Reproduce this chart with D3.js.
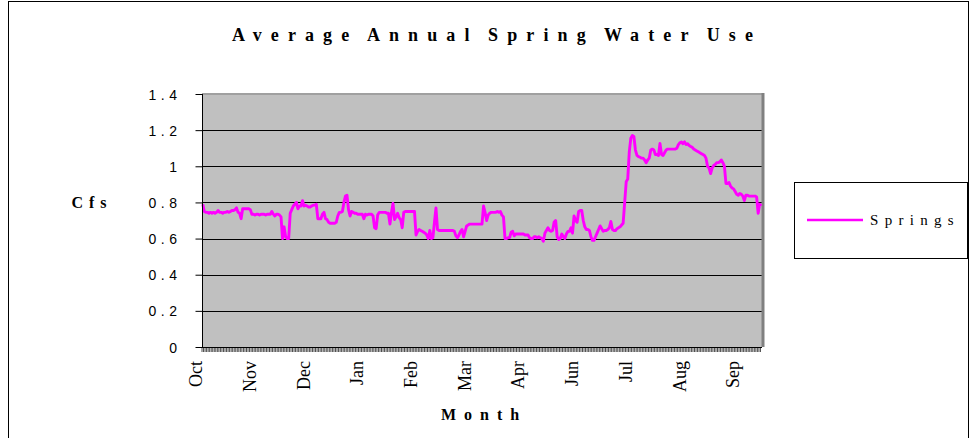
<!DOCTYPE html>
<html><head><meta charset="utf-8">
<script src="https://cdn.jsdelivr.net/npm/d3@7/dist/d3.min.js"></script>
<style>body{margin:0;background:#fff;overflow:hidden}</style>
</head><body><svg id="c" width="972" height="438"></svg>
<script>
const chartTitle = "Average Annual Spring Water Use";
const xTitle = "Month";
const yTitle = "Cfs";
const seriesName = "Springs";
const yTicks = [0, 0.2, 0.4, 0.6, 0.8, 1, 1.2, 1.4];
const monthLabels = ["Oct","Nov","Dec","Jan","Feb","Mar","Apr","Jun","Jul","Aug","Sep"];
const monthLabelDays = [0, 35, 70, 105, 140, 175, 210, 245, 280, 315, 350];
const springs = [
  0.79,0.75,0.745,0.745,0.74,0.745,0.74,0.745,0.74,0.745,
  0.755,0.745,0.745,0.74,0.745,0.745,0.75,0.745,0.75,0.755,
  0.755,0.76,0.77,0.745,0.74,0.71,0.765,0.765,0.765,0.765,
  0.765,0.76,0.735,0.735,0.73,0.735,0.735,0.73,0.735,0.735,
  0.735,0.73,0.735,0.735,0.735,0.75,0.735,0.725,0.735,0.735,
  0.73,0.72,0.60,0.665,0.61,0.60,0.60,0.74,0.76,0.78,
  0.79,0.80,0.765,0.78,0.78,0.81,0.78,0.785,0.78,0.775,
  0.775,0.78,0.785,0.785,0.79,0.71,0.71,0.71,0.735,0.745,
  0.71,0.705,0.69,0.685,0.685,0.685,0.685,0.69,0.725,0.745,
  0.745,0.75,0.80,0.835,0.84,0.76,0.725,0.75,0.745,0.74,
  0.74,0.735,0.735,0.735,0.735,0.71,0.735,0.73,0.735,0.735,
  0.735,0.725,0.66,0.655,0.73,0.745,0.745,0.745,0.745,0.745,
  0.74,0.74,0.68,0.745,0.795,0.705,0.72,0.74,0.715,0.705,
  0.66,0.745,0.75,0.75,0.75,0.75,0.75,0.75,0.75,0.62,
  0.64,0.65,0.645,0.64,0.635,0.63,0.62,0.60,0.645,0.60,
  0.605,0.69,0.77,0.65,0.645,0.645,0.645,0.645,0.645,0.645,
  0.645,0.645,0.645,0.645,0.64,0.615,0.605,0.62,0.64,0.65,
  0.61,0.64,0.67,0.675,0.68,0.68,0.68,0.68,0.68,0.68,
  0.68,0.68,0.68,0.78,0.745,0.70,0.73,0.74,0.745,0.745,
  0.745,0.745,0.75,0.745,0.75,0.73,0.72,0.60,0.60,0.605,
  0.605,0.635,0.64,0.615,0.625,0.625,0.625,0.625,0.625,0.625,
  0.62,0.62,0.62,0.605,0.60,0.60,0.61,0.61,0.605,0.61,
  0.605,0.60,0.585,0.63,0.645,0.66,0.645,0.64,0.645,0.69,
  0.70,0.61,0.595,0.60,0.625,0.61,0.60,0.625,0.64,0.64,
  0.66,0.63,0.725,0.70,0.69,0.75,0.755,0.755,0.70,0.665,
  0.65,0.65,0.645,0.61,0.59,0.59,0.61,0.63,0.65,0.67,
  0.655,0.64,0.645,0.645,0.65,0.66,0.695,0.65,0.645,0.645,
  0.655,0.66,0.665,0.675,0.685,0.80,0.915,0.93,1.08,1.155,
  1.17,1.165,1.09,1.06,1.053,1.05,1.045,1.045,1.035,1.02,
  1.035,1.045,1.09,1.095,1.09,1.065,1.065,1.06,1.127,1.065,
  1.06,1.075,1.09,1.095,1.095,1.095,1.095,1.095,1.095,1.10,
  1.12,1.13,1.135,1.125,1.135,1.12,1.125,1.115,1.11,1.105,
  1.095,1.09,1.085,1.08,1.075,1.07,1.065,1.06,1.045,1.0,
  0.99,0.96,0.99,1.005,1.01,1.02,1.02,1.025,1.035,1.02,
  1.0,0.905,0.905,0.91,0.89,0.88,0.875,0.86,0.845,0.84,
  0.85,0.845,0.835,0.81,0.84,0.84,0.835,0.835,0.835,0.835,
  0.835,0.83,0.74,0.79,0.78
];
const days = springs.map((v, i) => i);

const svg = d3.select("#c");
const plot = {left: 202, right: 762, top: 94, bottom: 347};

// outer chart border
svg.append("rect").attr("x", 8.5).attr("y", 1.5).attr("width", 960).attr("height", 460)
  .attr("fill", "#fff").attr("stroke", "#000").attr("stroke-width", 1);

const x = d3.scalePoint().domain(days).range([plot.left, plot.right]).padding(0.5);
const xb = d3.scaleBand().domain(days).range([plot.left, plot.right]);
const y = d3.scaleLinear().domain([0, 1.4]).range([plot.bottom, plot.top]);

// plot area
svg.append("rect").attr("x", plot.left).attr("y", plot.top)
  .attr("width", plot.right - plot.left).attr("height", plot.bottom - plot.top)
  .attr("fill", "#c0c0c0");

// gridlines
svg.append("g").selectAll("line").data(yTicks.filter(t => t > 0 && t < 1.4)).join("line")
  .attr("x1", plot.left).attr("x2", plot.right)
  .attr("y1", d => Math.round(y(d)) + 0.5).attr("y2", d => Math.round(y(d)) + 0.5)
  .attr("stroke", "#000").attr("stroke-width", 1);

// plot area top/right border
svg.append("line").attr("x1", plot.left).attr("x2", plot.right + 1)
  .attr("y1", plot.top).attr("y2", plot.top).attr("stroke", "#a0a0a0").attr("stroke-width", 2);
svg.append("line").attr("x1", plot.right + 1).attr("x2", plot.right + 1)
  .attr("y1", plot.top - 1).attr("y2", plot.bottom).attr("stroke", "#808080").attr("stroke-width", 3);

// line
const line = d3.line().x((d, i) => x(i)).y(d => y(d)).curve(d3.curveLinear);
svg.append("path").datum(springs).attr("d", line)
  .attr("fill", "none").attr("stroke", "#ff00ff").attr("stroke-width", 2.9)
  .attr("stroke-linejoin", "round");

// y axis
const yAxis = d3.axisLeft(y).tickValues(yTicks).tickSize(7).tickPadding(0)
  .tickFormat(d => String(d));
const gy = svg.append("g").attr("transform", `translate(${plot.left + 0.5},0)`).call(yAxis);
gy.select(".domain").attr("stroke", "#000").attr("d", `M0,${plot.top}V${plot.bottom}`);
gy.selectAll(".tick line").attr("stroke", "#000");
gy.selectAll(".tick text")
  .attr("x", -21).attr("dy", "0.36em")
  .style("font-family", "'Liberation Sans', Arial, sans-serif")
  .style("font-size", "14px").style("letter-spacing", "4.5px").attr("fill", "#000");

// x axis: dense category tick marks
const xTickAxis = d3.axisBottom(xb).tickValues(days).tickSize(5).tickFormat("");
const gx = svg.append("g").attr("transform", `translate(0,${plot.bottom})`).call(xTickAxis);
gx.selectAll(".tick").attr("transform", d => `translate(${xb(d)},0)`);
gx.selectAll(".tick line").attr("stroke", "#000").attr("stroke-width", 0.7);
gx.select(".domain").attr("stroke", "#000").attr("d", `M${plot.left},0.5H${plot.right}`);

// month labels
svg.append("g").selectAll("text").data(monthLabelDays).join("text")
  .attr("transform", (d, i) => `translate(${x(d) - 0.5},${361}) rotate(-90)`)
  .attr("text-anchor", "end")
  .style("font-family", "'Liberation Serif', 'Times New Roman', serif")
  .style("font-size", "18px").attr("fill", "#000")
  .text((d, i) => monthLabels[i]);

// titles
svg.append("text").attr("x", 497).attr("y", 41).attr("text-anchor", "middle")
  .style("font-family", "'Liberation Serif', 'Times New Roman', serif")
  .style("font-weight", "bold").style("font-size", "18px")
  .style("letter-spacing", "9.1px").style("word-spacing", "-4px")
  .text(chartTitle);
svg.append("text").attr("x", 484).attr("y", 420).attr("text-anchor", "middle")
  .style("font-family", "'Liberation Serif', 'Times New Roman', serif")
  .style("font-weight", "bold").style("font-size", "16px").style("letter-spacing", "8px")
  .text(xTitle);
svg.append("text").attr("x", 92).attr("y", 208).attr("text-anchor", "middle")
  .style("font-family", "'Liberation Serif', 'Times New Roman', serif")
  .style("font-weight", "bold").style("font-size", "16px").style("letter-spacing", "6px")
  .text(yTitle);

// legend
const lg = svg.append("g");
lg.append("rect").attr("x", 794.5).attr("y", 182.5).attr("width", 173).attr("height", 76)
  .attr("fill", "#fff").attr("stroke", "#000").attr("stroke-width", 1);
lg.append("line").attr("x1", 807).attr("x2", 863).attr("y1", 220).attr("y2", 220)
  .attr("stroke", "#ff00ff").attr("stroke-width", 2.5);
lg.append("text").attr("x", 870).attr("y", 225)
  .style("font-family", "'Liberation Serif', 'Times New Roman', serif")
  .style("font-size", "15px").style("letter-spacing", "6.3px")
  .text(seriesName);
</script></body></html>
